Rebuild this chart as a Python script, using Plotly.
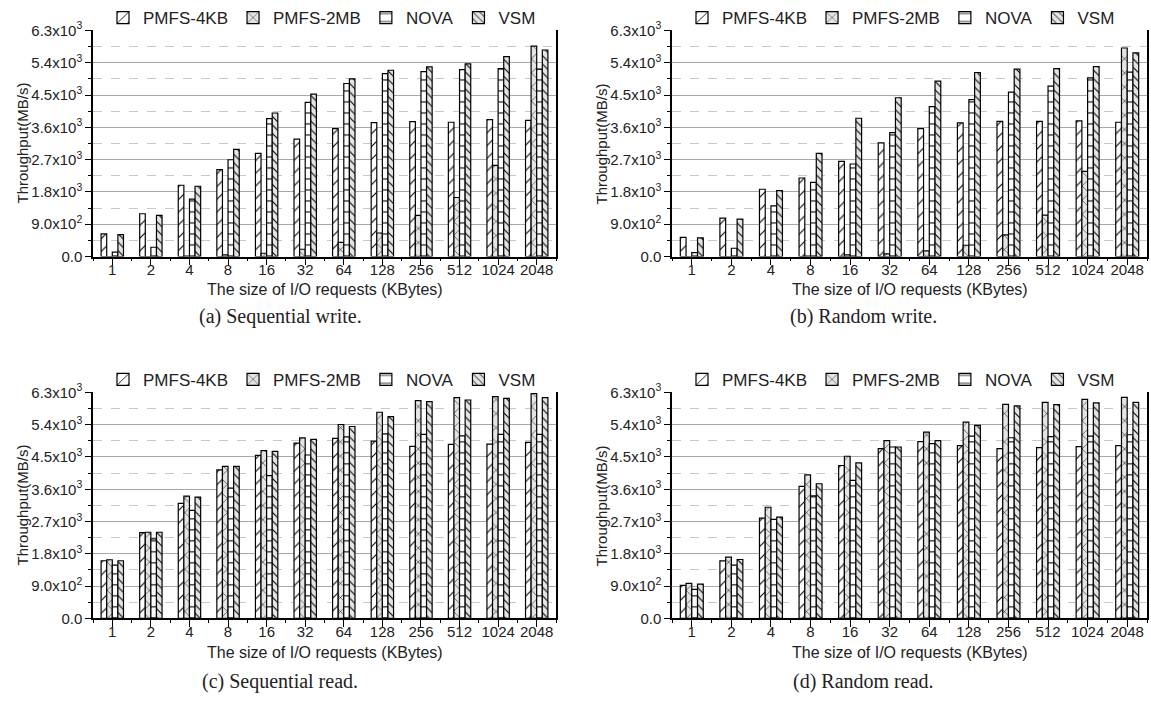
import plotly.graph_objects as go

categories = ['1', '2', '4', '8', '16', '32', '64', '128', '256', '512', '1024', '2048']
series_names = ['PMFS-4KB', 'PMFS-2MB', 'NOVA', 'VSM']

# (a) Sequential write
sw_4kb = [629, 1192, 1987, 2420, 2874, 3271, 3567, 3733, 3760, 3742, 3815, 3797]
sw_2mb = [0, 0, 10, 46, 92, 203, 397, 656, 1145, 1645, 2540, 5866]
sw_nova = [120, 258, 1599, 2697, 3844, 4296, 4822, 5099, 5155, 5210, 5238, 5220]
sw_vsm = [610, 1145, 1959, 2985, 4000, 4526, 4952, 5191, 5284, 5368, 5570, 5756]

# (b) Random write
rw_4kb = [536, 1072, 1875, 2189, 2652, 3168, 3567, 3723, 3769, 3769, 3778, 3742]
rw_2mb = [0, 0, 0, 10, 46, 74, 157, 314, 601, 1155, 2374, 5811]
rw_nova = [111, 231, 1413, 2069, 2578, 3455, 4175, 4370, 4582, 4748, 4980, 5137]
rw_vsm = [518, 1044, 1838, 2874, 3853, 4425, 4888, 5128, 5220, 5238, 5293, 5673]

# (c) Sequential read
sr_4kb = [1607, 2393, 3205, 4138, 4545, 4887, 5016, 4942, 4794, 4850, 4859, 4905]
sr_2mb = [1635, 2402, 3409, 4240, 4674, 5034, 5404, 5746, 6069, 6152, 6180, 6263]
sr_nova = [1487, 2217, 3011, 3630, 3981, 4554, 5062, 5145, 5127, 5090, 5127, 5127]
sr_vsm = [1607, 2402, 3381, 4240, 4656, 4988, 5349, 5626, 6041, 6088, 6134, 6152]

# (d) Random read
rr_4kb = [922, 1605, 2795, 3680, 4262, 4732, 4925, 4815, 4732, 4760, 4787, 4815]
rr_2mb = [978, 1706, 3099, 4003, 4520, 4953, 5193, 5470, 5968, 6023, 6106, 6162]
rr_nova = [812, 1485, 2758, 3413, 3846, 4778, 4870, 5082, 5036, 5064, 5082, 5119]
rr_vsm = [959, 1642, 2823, 3754, 4335, 4778, 4953, 5378, 5922, 5959, 6005, 6023]

ytick_vals = [0, 900, 1800, 2700, 3600, 4500, 5400, 6300]
ytick_text = ['0.0', '9.0x10<sup>2</sup>', '1.8x10<sup>3</sup>', '2.7x10<sup>3</sup>',
              '3.6x10<sup>3</sup>', '4.5x10<sup>3</sup>', '5.4x10<sup>3</sup>', '6.3x10<sup>3</sup>']

captions = ['(a) Sequential write.', '(b) Random write.', '(c) Sequential read.', '(d) Random read.']
panels = [
    [sw_4kb, sw_2mb, sw_nova, sw_vsm],
    [rw_4kb, rw_2mb, rw_nova, rw_vsm],
    [sr_4kb, sr_2mb, sr_nova, sr_vsm],
    [rr_4kb, rr_2mb, rr_nova, rr_vsm],
]

W, H = 1151, 706
FONT = 'Liberation Sans, Arial, sans-serif'
SERIF = 'Liberation Serif, Times New Roman, serif'

styles = [
    dict(shape='/', bg='white', size=9, solidity=0.12),
    dict(shape='x', bg='#e4e4e4', size=10, solidity=0.1),
    dict(shape='-', bg='white', size=11, solidity=0.1),
    dict(shape='\\', bg='#e4e4e4', size=6, solidity=0.18),
]

# pixel layout of each panel: (left, right, top, bottom, x-title y, caption x, caption y)
boxes = [(93, 556, 18, 251, 285, 280, 313), (672, 1147, 18, 251, 285, 863, 313),
         (93, 556, 391, 624, 659, 280, 689), (672, 1147, 391, 624, 659, 863, 689)]

fig = go.Figure()
xpos = list(range(len(categories)))

for p, (series, box) in enumerate(zip(panels, boxes)):
    xa = 'x' if p == 0 else f'x{p+1}'
    ya = 'y' if p == 0 else f'y{p+1}'
    lg = 'legend' if p == 0 else f'legend{p+1}'
    for name, vals, st in zip(series_names, series, styles):
        fig.add_trace(go.Bar(
            x=xpos, y=vals, name=name, xaxis=xa, yaxis=ya, legend=lg,
            marker=dict(color=st['bg'], line=dict(color='black', width=1.2),
                        pattern=dict(shape=st['shape'], fgcolor='black', bgcolor=st['bg'],
                                     size=st['size'], solidity=st['solidity'], fillmode='replace')),
        ))
    l, r, t, b, ty, capx, capy = box
    xdom = [l / W, r / W]
    ydom = [(H - b) / H, (H - t) / H]
    xkey = 'xaxis' if p == 0 else f'xaxis{p+1}'
    ykey = 'yaxis' if p == 0 else f'yaxis{p+1}'
    fig.layout[xkey] = dict(
        domain=xdom, anchor=ya, range=[-0.5, len(categories) - 0.5],
        tickmode='array', tickvals=xpos, ticktext=categories,
        ticks='outside', ticklen=7, tickwidth=1, tickcolor='black',
        ticklabelstandoff=-8,
        showline=True, linecolor='black', linewidth=1.5, showgrid=False, zeroline=False,
        minor=dict(tickvals=[i - 0.5 for i in range(len(categories) + 1)], ticks='outside',
                   ticklen=3, tickcolor='black', showgrid=False),
        tickfont=dict(family=FONT, size=15, color='#222'),
    )
    fig.layout[ykey] = dict(
        domain=ydom, anchor=xa, range=[0, 6300],
        tickmode='array', tickvals=ytick_vals, ticktext=ytick_text,
        ticks='outside', ticklen=6, tickcolor='black',
        showline=True, linecolor='black', linewidth=1.5, mirror=True,
        showgrid=True, gridcolor='#a8a8a8', gridwidth=1, zeroline=False,
        minor=dict(tickvals=[v + 450 for v in ytick_vals[:-1]], ticks='outside', ticklen=3,
                   tickcolor='black', showgrid=True, griddash='dash', gridcolor='#c8c8c8'),
        tickfont=dict(family=FONT, size=15, color='#222'),
    )
    fig.layout[lg] = dict(
        orientation='h', x=(l + 10) / W, xanchor='left', y=(H - t + 13) / H, yanchor='middle',
        font=dict(family=FONT, size=17, color='#222'), bgcolor='rgba(0,0,0,0)',
        traceorder='normal', itemwidth=30,
    )
    cx = (l + r) / 2 / W
    fig.add_annotation(text='The size of I/O requests (KBytes)', x=cx, y=(H - ty) / H,
                       xref='paper', yref='paper', showarrow=False,
                       xanchor='center', yanchor='middle',
                       font=dict(family=FONT, size=16, color='#222'))
    fig.add_annotation(text=captions[p], x=capx / W, y=(H - capy) / H,
                       xref='paper', yref='paper', showarrow=False,
                       xanchor='center', yanchor='middle',
                       font=dict(family=SERIF, size=20, color='#222'))
    fig.add_annotation(text='Throughput(MB/s)', x=(l - 71) / W, y=(H - (t + b) / 2) / H,
                       xref='paper', yref='paper', showarrow=False, textangle=-90,
                       xanchor='center', yanchor='middle',
                       font=dict(family=FONT, size=15, color='#222'))

fig.update_layout(
    width=W, height=H, margin=dict(l=0, r=0, t=0, b=0),
    plot_bgcolor='white', paper_bgcolor='white',
    barmode='group', bargap=0.42, bargroupgap=0,
)

fig.write_html('out.html', config={'displayModeBar': False},
               post_script="document.body.style.margin='0px';document.body.style.padding='0px';"
                           "document.body.style.overflow='hidden';")
